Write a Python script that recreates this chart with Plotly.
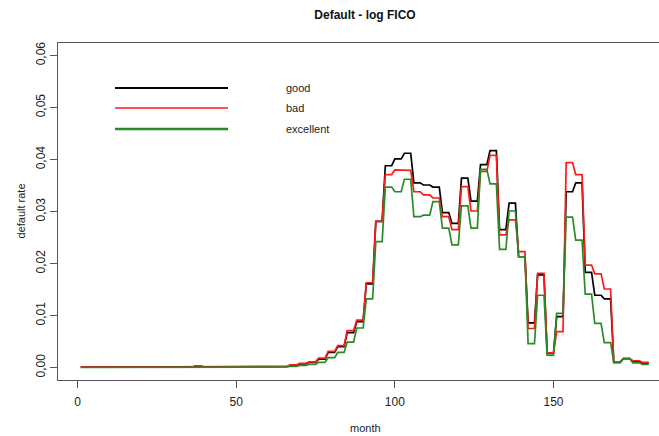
import numpy as np
import plotly.graph_objects as go

# Quarterly default rates (each value holds for 3 consecutive months, months 1..180)
good = [0.0001, 0.0001, 0.0001, 0.0001, 0.0001, 0.0001, 0.0001, 0.0001, 0.0001, 0.0001,
        0.0001, 0.0001, 0.0002, 0.0001, 0.0001, 0.0001, 0.0001, 0.0001, 0.0001, 0.0002,
        0.0002, 0.0002, 0.0004, 0.0007, 0.0010, 0.0016, 0.0029, 0.0040, 0.0067, 0.0088,
        0.0161, 0.0281, 0.0388, 0.0401, 0.0412, 0.0355, 0.0351, 0.0347, 0.0298, 0.0277,
        0.0364, 0.0320, 0.0390, 0.0417, 0.0265, 0.0316, 0.0213, 0.0086, 0.0178, 0.0028,
        0.0098, 0.0338, 0.0355, 0.0183, 0.0139, 0.0132, 0.0010, 0.0017, 0.0012, 0.0008]
bad = [0.0001, 0.0001, 0.0001, 0.0001, 0.0001, 0.0001, 0.0001, 0.0001, 0.0001, 0.0001,
       0.0001, 0.0001, 0.0003, 0.0001, 0.0001, 0.0001, 0.0001, 0.0001, 0.0002, 0.0002,
       0.0002, 0.0002, 0.0005, 0.0008, 0.0011, 0.0018, 0.0031, 0.0042, 0.0071, 0.0091,
       0.0163, 0.0281, 0.0371, 0.0380, 0.0379, 0.0338, 0.0332, 0.0326, 0.0290, 0.0265,
       0.0348, 0.0301, 0.0377, 0.0408, 0.0255, 0.0284, 0.0223, 0.0075, 0.0181, 0.0028,
       0.0069, 0.0394, 0.0371, 0.0197, 0.0180, 0.0151, 0.0010, 0.0017, 0.0013, 0.0010]
excellent = [0.0000, 0.0000, 0.0000, 0.0000, 0.0000, 0.0000, 0.0000, 0.0000, 0.0000, 0.0000,
             0.0000, 0.0000, 0.0001, 0.0000, 0.0000, 0.0000, 0.0000, 0.0000, 0.0001, 0.0001,
             0.0001, 0.0001, 0.0002, 0.0004, 0.0006, 0.0010, 0.0019, 0.0029, 0.0049, 0.0076,
             0.0132, 0.0242, 0.0347, 0.0338, 0.0362, 0.0290, 0.0293, 0.0319, 0.0268, 0.0236,
             0.0311, 0.0268, 0.0381, 0.0353, 0.0227, 0.0301, 0.0213, 0.0046, 0.0139, 0.0024,
             0.0104, 0.0289, 0.0245, 0.0141, 0.0085, 0.0048, 0.0010, 0.0017, 0.0009, 0.0006]

months = np.arange(1, 181)
series_names = ["good", "bad", "excellent"]
series_vals = [good, bad, excellent]
series_colors = ["#000000", "#ff1a1a", "#2a8a2a"]

x_ticks = [0, 50, 100, 150]
y_ticks = [0.00, 0.01, 0.02, 0.03, 0.04, 0.05, 0.06]
y_ticktext = ["0,00", "0,01", "0,02", "0,03", "0,04", "0,05", "0,06"]

FONT = "Liberation Sans Narrow, Liberation Sans, Arial, sans-serif"

fig = go.Figure()
for name, vals, col in zip(series_names, series_vals, series_colors):
    fig.add_trace(go.Scatter(x=months, y=np.repeat(vals, 3), mode="lines", name=name,
                             line=dict(color=col, width=1.7), showlegend=False))

axis_col = "#555555"
fig.update_layout(
    width=659, height=436,
    margin=dict(l=58, r=0, t=43, b=56),
    paper_bgcolor="white", plot_bgcolor="white",
    font=dict(family=FONT, size=12, color="#222222"),
    title=dict(text="<b>Default - log FICO</b>", x=365/659, xref="container", xanchor="center",
               y=1 - 15/436, yref="container", yanchor="middle",
               font=dict(family=FONT, size=12, color="#111111")),
    xaxis=dict(range=[-6.16, 183.25], tickvals=x_ticks, ticks="outside", ticklen=7,
               tickcolor=axis_col, showline=True, linecolor=axis_col, linewidth=1, mirror=True,
               showgrid=False, zeroline=False, ticklabelstandoff=4,
               tickfont=dict(size=12, color="#222222")),
    yaxis=dict(range=[-0.0024, 0.0624], tickvals=y_ticks, ticktext=y_ticktext, ticks="outside",
               ticklen=7, tickcolor=axis_col, showline=True, linecolor=axis_col, linewidth=1,
               mirror=False, showgrid=False, zeroline=False, tickangle=-90,
               tickfont=dict(size=12, color="#222222")),
)

annotations = [
    dict(text="month", x=(365 - 58) / 601, y=(380 - 428) / 337, xref="paper", yref="paper",
         showarrow=False, xanchor="center", yanchor="middle", font=dict(size=11, color="#222222")),
    dict(text="default rate", x=(20 - 58) / 601, y=0.5, xref="paper", yref="paper", textangle=-90,
         showarrow=False, xanchor="center", yanchor="middle", font=dict(size=11, color="#222222")),
]
shapes = []
leg_y = [88, 108, 129]
leg_widths = [2.2, 1.7, 2.4]
for name, col, py, lw in zip(series_names, series_colors, leg_y, leg_widths):
    yp = (380 - py) / 337
    shapes.append(dict(type="line", xref="paper", yref="paper", x0=(115 - 58) / 601, x1=(228 - 58) / 601,
                       y0=yp, y1=yp, line=dict(color=col, width=lw)))
    annotations.append(dict(text=name, x=(284 - 58) / 601, y=yp, xref="paper", yref="paper",
                            showarrow=False, xanchor="left", yanchor="middle",
                            font=dict(size=11, color="#222222")))
fig.update_layout(shapes=shapes, annotations=annotations)

fig.write_html("out.html")
